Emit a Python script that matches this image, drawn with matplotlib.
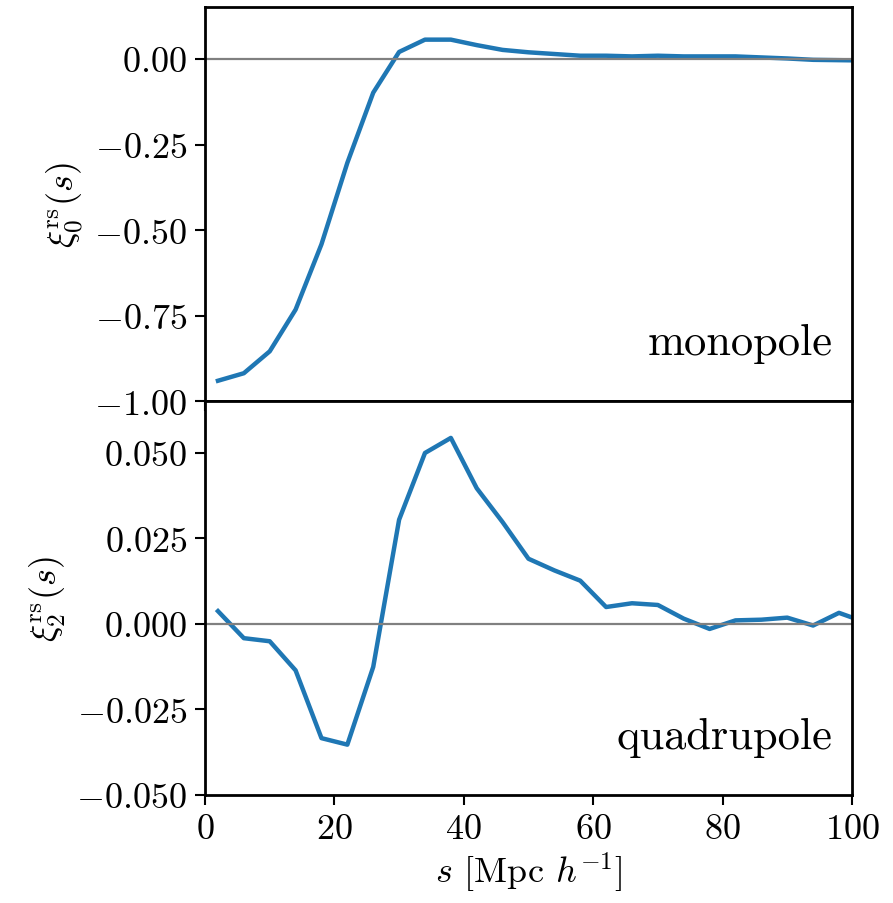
import matplotlib
matplotlib.use("Agg")
import matplotlib.pyplot as plt

# separation bins [Mpc/h]
s = [2, 6, 10, 14, 18, 22, 26, 30, 34, 38, 42, 46, 50, 54, 58, 62, 66, 70,
     74, 78, 82, 86, 90, 94, 98, 102]

# redshift-space monopole
xi0 = [-0.940, -0.918, -0.854, -0.732, -0.541, -0.303, -0.098, 0.021, 0.057,
       0.057, 0.041, 0.027, 0.020, 0.015, 0.010, 0.010, 0.008, 0.010, 0.008,
       0.008, 0.008, 0.005, 0.002, -0.002, -0.003, -0.004]

# redshift-space quadrupole
xi2 = [0.0037, -0.0042, -0.0051, -0.0136, -0.0334, -0.0353, -0.0126, 0.0304,
       0.0499, 0.0543, 0.0396, 0.0297, 0.0190, 0.0156, 0.0126, 0.0049, 0.0060,
       0.0055, 0.0015, -0.0015, 0.0010, 0.0012, 0.0018, -0.0005, 0.0032, 0.0005]

plt.rcParams["font.family"] = "serif"
plt.rcParams["font.serif"] = ["cmr10"]
plt.rcParams["mathtext.fontset"] = "cm"
plt.rcParams["axes.formatter.use_mathtext"] = True
plt.rcParams["font.size"] = 26

fig = plt.figure(figsize=(8.93, 9.04), dpi=100)
ax1 = fig.add_axes([0.2296, 0.555, 0.7244, 0.436])
ax2 = fig.add_axes([0.2296, 0.1195, 0.7244, 0.4355], sharex=ax1)

#Monopole panel
ax1.plot(s, xi0, color="C0", lw=3.2)
ax1.axhline(0, color="gray", lw=1.6)
ax1.set_ylim(-1.0, 0.152)
ax1.set_yticks([0.0, -0.25, -0.5, -0.75, -1.0])
ax1.set_ylabel(r"$\xi^{\rm rs}_0(s)$", labelpad=6)
ax1.text(0.97, 0.12, "monopole", transform=ax1.transAxes, ha="right",
         va="baseline", fontsize=32)
ax1.tick_params(labelbottom=False)

#Quadrupole panel
ax2.plot(s, xi2, color="C0", lw=3.2)
ax2.axhline(0, color="gray", lw=1.6)
ax2.set_ylim(-0.05, 0.065)
ax2.set_yticks([0.05, 0.025, 0.0, -0.025, -0.05])
ax2.set_ylabel(r"$\xi^{\rm rs}_2(s)$", labelpad=6)
ax2.text(0.97, 0.12, "quadrupole", transform=ax2.transAxes, ha="right",
         va="baseline", fontsize=32)
ax2.set_xlim(0, 100)
ax2.set_xticks([0, 20, 40, 60, 80, 100])
ax2.set_xlabel(r"$s$ [Mpc $h^{-1}$]")

for ax in (ax1, ax2):
    for sp in ax.spines.values():
        sp.set_linewidth(2)
    ax.tick_params(width=1.5, length=7, pad=6)

fig.savefig("out.png", dpi=100)
